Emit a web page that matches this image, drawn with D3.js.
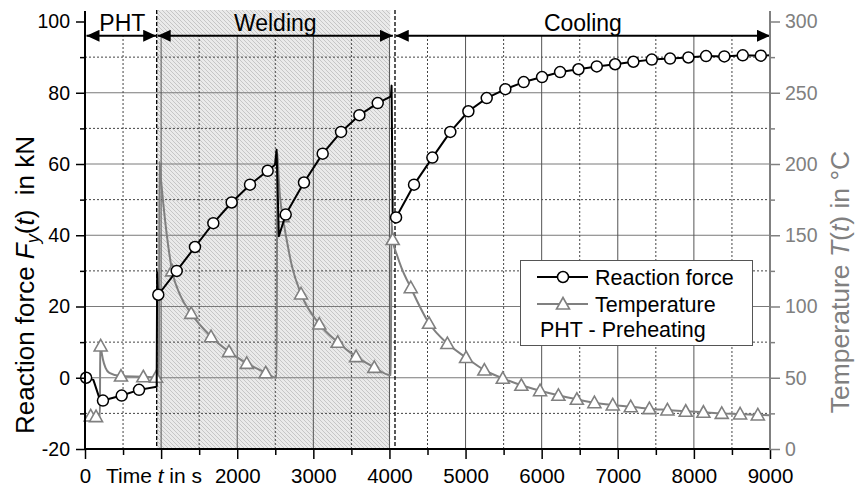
<!DOCTYPE html>
<html>
<head>
<meta charset="utf-8">
<script src="https://cdn.jsdelivr.net/npm/d3@7"></script>
<style>
  body { margin: 0; background: #fff; }
  svg text { font-family: "Liberation Sans", Arial, sans-serif; }
</style>
</head>
<body>
<svg id="chart" width="858" height="489"></svg>
<script>
// Reaction force F_y(t) in kN: [time s, force kN, marker flag]
const forceSeries = [
  [15, 0, 1], [110, -0.6, 0], [190, -5.8, 0], [236, -6.4, 1], [482, -5.0, 1], [710, -3.4, 1],
  [942, -2.5, 0], [948, 29.6, 0], [955, 24.5, 0], [963, 23.3, 1],
  [1205, 30.0, 1], [1445, 36.7, 1], [1686, 43.4, 1], [1927, 49.2, 1], [2168, 54.2, 1], [2400, 58.1, 1],
  [2497, 59.8, 0], [2517, 64.0, 0], [2547, 39.7, 0],
  [2637, 45.8, 1], [2877, 54.8, 1], [3123, 62.9, 1], [3364, 69.0, 1], [3605, 73.7, 1], [3846, 77.1, 1],
  [4020, 79.0, 0], [4028, 82.0, 0], [4042, 46.5, 0],
  [4087, 45.0, 1], [4323, 54.2, 1], [4564, 61.8, 1], [4800, 69.0, 1], [5037, 74.8, 1], [5278, 78.5, 1],
  [5523, 81.0, 1], [5764, 83.0, 1], [6005, 84.4, 1], [6242, 85.8, 1], [6483, 86.6, 1], [6724, 87.4, 1],
  [6965, 88.0, 1], [7205, 88.7, 1], [7447, 89.3, 1], [7687, 89.6, 1], [7928, 89.9, 1], [8160, 90.3, 1],
  [8400, 90.2, 1], [8642, 90.5, 1], [8879, 90.4, 1], [9000, 90.5, 0]
];

// Temperature T(t) in °C: [time s, temperature °C, marker flag]
const temperatureSeries = [
  [20, 23.0, 0], [75, 23.2, 1], [145, 22.7, 1], [196, 23.0, 0], [200, 75.0, 0], [206, 72.3, 1],
  [235, 63.0, 0], [270, 57.0, 0], [320, 53.5, 0], [473, 51.2, 1], [766, 50.7, 1], [933, 50.3, 1],
  [972, 50.5, 0], [978, 201.5, 0], [1000, 188.0, 0], [1029, 172.0, 0], [1073, 151.0, 0], [1145, 125.0, 1],
  [1250, 108.0, 0], [1395, 95.2, 1], [1656, 78.8, 1], [1892, 68.3, 1], [2125, 60.1, 1], [2374, 53.5, 1],
  [2518, 50.0, 0], [2526, 208.0, 0], [2545, 190.0, 0], [2562, 177.0, 0], [2598, 163.0, 1],
  [2649, 147.0, 0], [2720, 128.0, 0], [2838, 108.8, 1], [3078, 87.7, 1], [3320, 74.9, 1],
  [3561, 64.8, 1], [3801, 57.3, 1], [4008, 51.9, 0], [4018, 52.0, 0], [4026, 160.0, 0], [4043, 147.0, 1],
  [4100, 136.0, 0], [4160, 127.0, 0], [4280, 113.2, 1], [4520, 88.2, 1], [4761, 74.0, 1], [5007, 64.2, 1],
  [5247, 55.4, 1], [5489, 49.6, 1], [5733, 44.7, 1], [5979, 40.9, 1], [6220, 37.7, 1], [6462, 34.9, 1],
  [6693, 32.5, 1], [6934, 30.9, 1], [7170, 29.7, 1], [7415, 28.3, 1], [7652, 27.4, 1], [7893, 26.5, 1],
  [8125, 25.8, 1], [8366, 25.0, 1], [8607, 24.6, 1], [8840, 23.9, 1], [9000, 23.6, 0]
];

// Process phases (times in s) and their labels
const phaseNames = ["PHT", "Welding", "Cooling"];
const phaseFrom = [20, 955, 4083];
const phaseTo = [935, 4045, 9000];
const phaseBoundaries = [942, 4073];
const weldingSpan = [942, 4010];

// Axis ticks
const forceTicks = [-20, 0, 20, 40, 60, 80, 100];
const forceMinorTicks = [-10, 10, 30, 50, 70, 90];
const timeTicks = [0, 1000, 2000, 3000, 4000, 5000, 6000, 7000, 8000, 9000];
const timeMinorTicks = [500, 1500, 2500, 3500, 4500, 5500, 6500, 7500, 8500];
const timeTickLabels = ["0", "", "2000", "3000", "4000", "5000", "6000", "7000", "8000", "9000"];
const tempTicks = [0, 50, 100, 150, 200, 250, 300];
const tempMinorTicks = [25, 75, 125, 175, 225, 275];

const legendLabels = ["Reaction force", "Temperature", "PHT - Preheating"];

const GREY = "#808080";
const FONT = "'Liberation Sans', Arial, sans-serif";
const svg = d3.select("#chart");

const x = d3.scaleLinear().domain([0, 9000]).range([85, 770]);
const yL = d3.scaleLinear().domain([-20, 100]).range([449, 21.5]);
const yR = d3.scaleLinear().domain([0, 300]).range([449, 21.5]);
const axisTop = 11;
const arrowLevel = 96;

// hatch pattern and arrowheads
const defs = svg.append("defs");
const pat = defs.append("pattern").attr("id", "hatch").attr("patternUnits", "userSpaceOnUse")
  .attr("width", 4).attr("height", 4);
pat.append("rect").attr("width", 4).attr("height", 4).attr("fill", "#eaeaea");
pat.append("path").attr("d", "M-1,-1 L5,5 M3,-1 L5,1 M-1,3 L1,5")
  .attr("stroke", "#c2c2c2").attr("stroke-width", 0.9);

defs.append("marker").attr("id", "arrowHead").attr("markerUnits", "userSpaceOnUse")
  .attr("markerWidth", 14).attr("markerHeight", 12).attr("refX", 13).attr("refY", 6)
  .attr("orient", "auto-start-reverse")
  .append("path").attr("d", "M0,0 L13,6 L0,12 Z").attr("fill", "#000");

// welding zone
svg.append("rect")
  .attr("x", x(weldingSpan[0])).attr("y", axisTop - 1)
  .attr("width", x(weldingSpan[1]) - x(weldingSpan[0]))
  .attr("height", yL(-20) - axisTop + 1)
  .attr("fill", "url(#hatch)");

// grid
const grid = svg.append("g");
grid.selectAll(".hmaj").data(forceTicks.filter(d => d > -20 && d < 100)).join("line")
  .attr("x1", x(0)).attr("x2", x(9000)).attr("y1", d => yL(d)).attr("y2", d => yL(d))
  .attr("stroke", "#7a7a7a").attr("stroke-width", 1);
grid.selectAll(".hmin").data(forceMinorTicks).join("line")
  .attr("x1", x(0)).attr("x2", x(9000)).attr("y1", d => yL(d)).attr("y2", d => yL(d))
  .attr("stroke", "#444").attr("stroke-width", 1).attr("stroke-dasharray", "2,2");
grid.selectAll(".vmaj").data(timeTicks.filter(d => d > 0 && d < 9000)).join("line")
  .attr("x1", d => x(d)).attr("x2", d => x(d)).attr("y1", yL(-20)).attr("y2", yL(arrowLevel))
  .attr("stroke", "#555").attr("stroke-width", 1);
grid.selectAll(".vmin").data(timeMinorTicks).join("line")
  .attr("x1", d => x(d)).attr("x2", d => x(d)).attr("y1", yL(-20)).attr("y2", yL(arrowLevel))
  .attr("stroke", "#444").attr("stroke-width", 1).attr("stroke-dasharray", "2,2");

// phase boundaries
svg.selectAll(".bound").data(phaseBoundaries).join("line")
  .attr("x1", d => x(d)).attr("x2", d => x(d)).attr("y1", axisTop - 1).attr("y2", yL(-20))
  .attr("stroke", "#000").attr("stroke-width", 1.3).attr("stroke-dasharray", "4,2");

// phase arrows and labels
const phases = phaseNames.map((n, i) => ({ name: n, from: phaseFrom[i], to: phaseTo[i] }));
svg.selectAll(".parrow").data(phases).join("line")
  .attr("x1", d => x(d.from)).attr("x2", d => x(d.to))
  .attr("y1", yL(arrowLevel)).attr("y2", yL(arrowLevel))
  .attr("stroke", "#000").attr("stroke-width", 2)
  .attr("marker-start", "url(#arrowHead)").attr("marker-end", "url(#arrowHead)");
svg.selectAll(".plabel").data(phases).join("text")
  .attr("x", d => (x(d.from) + x(d.to)) / 2 + (d.name === "PHT" ? 1 : 0))
  .attr("y", 30.5).attr("text-anchor", "middle")
  .style("font-size", "23px").attr("fill", "#000").text(d => d.name);

// series
const tempLine = d3.line().x(d => x(d[0])).y(d => yR(d[1])).curve(d3.curveMonotoneX);
const forceLine = d3.line().x(d => x(d[0])).y(d => yL(d[1]));

svg.append("path").datum(temperatureSeries).attr("d", tempLine)
  .attr("fill", "none").attr("stroke", GREY).attr("stroke-width", 2);

const triPath = "M0,-6.5 L6.5,5 L-6.5,5 Z";
svg.selectAll(".tri").data(temperatureSeries.filter(d => d[2])).join("path")
  .attr("d", triPath).attr("transform", d => `translate(${x(d[0])},${yR(d[1])})`)
  .attr("fill", "#fff").attr("stroke", GREY).attr("stroke-width", 1.6);

svg.append("path").datum(forceSeries).attr("d", forceLine)
  .attr("fill", "none").attr("stroke", "#000").attr("stroke-width", 2).attr("stroke-linejoin", "round");

svg.selectAll(".circ").data(forceSeries.filter(d => d[2])).join("circle")
  .attr("cx", d => x(d[0])).attr("cy", d => yL(d[1])).attr("r", 5.5)
  .attr("fill", "#fff").attr("stroke", "#000").attr("stroke-width", 1.5);

// axes
const gL = svg.append("g").attr("transform", `translate(${x(0)},0)`);
gL.call(d3.axisLeft(yL).tickValues(forceTicks).tickSize(9).tickPadding(6).tickFormat(d => String(d)));
gL.append("g").call(d3.axisLeft(yL).tickValues(forceMinorTicks).tickSize(5).tickFormat(""));
gL.selectAll(".domain").remove();
gL.selectAll("line").attr("stroke", "#000").attr("stroke-width", 1.5);
gL.selectAll("text").style("font-size", "19.5px").attr("fill", "#000").style("font-family", FONT);
gL.append("line").attr("y1", axisTop).attr("y2", yL(-20) + 0.75).attr("stroke", "#000").attr("stroke-width", 2);

const gB = svg.append("g").attr("transform", `translate(0,${yL(-20)})`);
gB.call(d3.axisBottom(x).tickValues(timeTicks).tickSize(10).tickPadding(9)
  .tickFormat((d, i) => timeTickLabels[i]));
gB.append("g").call(d3.axisBottom(x).tickValues(timeMinorTicks).tickSize(6).tickFormat(""));
gB.selectAll(".domain").remove();
gB.selectAll("line").attr("stroke", "#000").attr("stroke-width", 1.5);
gB.selectAll("text").style("font-size", "20.5px").attr("fill", "#000").style("font-family", FONT);
gB.append("line").attr("x1", x(0) - 1).attr("x2", x(9000)).attr("stroke", "#000").attr("stroke-width", 2);

const gR = svg.append("g").attr("transform", `translate(${x(9000)},0)`);
gR.call(d3.axisRight(yR).tickValues(tempTicks).tickSize(10).tickPadding(5).tickFormat(d => String(d)));
gR.append("g").call(d3.axisRight(yR).tickValues(tempMinorTicks).tickSize(5).tickFormat(""));
gR.selectAll(".domain").remove();
gR.selectAll("line").attr("stroke", GREY).attr("stroke-width", 1.5);
gR.selectAll("text").style("font-size", "19.5px").attr("fill", GREY).style("font-family", FONT);
gR.append("line").attr("y1", axisTop).attr("y2", yR(0) + 0.75).attr("stroke", GREY).attr("stroke-width", 2);

// axis titles
const xTitle = svg.append("text").attr("x", 154).attr("y", 483).attr("text-anchor", "middle")
  .style("font-size", "21px").style("white-space", "pre");
xTitle.append("tspan").text("Time ");
xTitle.append("tspan").attr("font-style", "italic").text("t");
xTitle.append("tspan").text(" in s");

const yTitle = svg.append("text").attr("transform", "translate(34,285) rotate(-90)")
  .attr("text-anchor", "middle").style("font-size", "26px").style("white-space", "pre");
yTitle.append("tspan").text("Reaction force ");
yTitle.append("tspan").attr("font-style", "italic").text("F");
yTitle.append("tspan").attr("font-style", "italic").attr("dy", 5).style("font-size", "18px").text("y");
yTitle.append("tspan").attr("dy", -5).text("(");
yTitle.append("tspan").attr("font-style", "italic").text("t");
yTitle.append("tspan").text(")  in kN");

const rTitle = svg.append("text").attr("transform", "translate(849,282) rotate(-90)")
  .attr("text-anchor", "middle").style("font-size", "26.5px").attr("fill", GREY).style("white-space", "pre");
rTitle.append("tspan").text("Temperature ");
rTitle.append("tspan").attr("font-style", "italic").text("T");
rTitle.append("tspan").text("(");
rTitle.append("tspan").attr("font-style", "italic").text("t");
rTitle.append("tspan").text(") in °C");

// legend
const lg = svg.append("g");
lg.append("rect").attr("x", 520.5).attr("y", 260.5).attr("width", 232).attr("height", 85)
  .attr("fill", "#fff").attr("stroke", "#555").attr("stroke-width", 1);
const lgRows = [277, 304];
lg.append("line").attr("x1", 537).attr("x2", 588).attr("y1", lgRows[0]).attr("y2", lgRows[0])
  .attr("stroke", "#000").attr("stroke-width", 2);
lg.append("circle").attr("cx", 563).attr("cy", lgRows[0]).attr("r", 5.5)
  .attr("fill", "#fff").attr("stroke", "#000").attr("stroke-width", 1.5);
lg.append("line").attr("x1", 537).attr("x2", 588).attr("y1", lgRows[1]).attr("y2", lgRows[1])
  .attr("stroke", GREY).attr("stroke-width", 2);
lg.append("path").attr("d", triPath).attr("transform", `translate(563,${lgRows[1]})`)
  .attr("fill", "#fff").attr("stroke", GREY).attr("stroke-width", 1.6);
lg.append("text").attr("x", 595).attr("y", lgRows[0] + 7.5).style("font-size", "21.5px").text(legendLabels[0]);
lg.append("text").attr("x", 595).attr("y", lgRows[1] + 7.5).style("font-size", "21.5px").text(legendLabels[1]);
lg.append("text").attr("x", 540).attr("y", 337).style("font-size", "21.5px").text(legendLabels[2]);
</script>
</body>
</html>
